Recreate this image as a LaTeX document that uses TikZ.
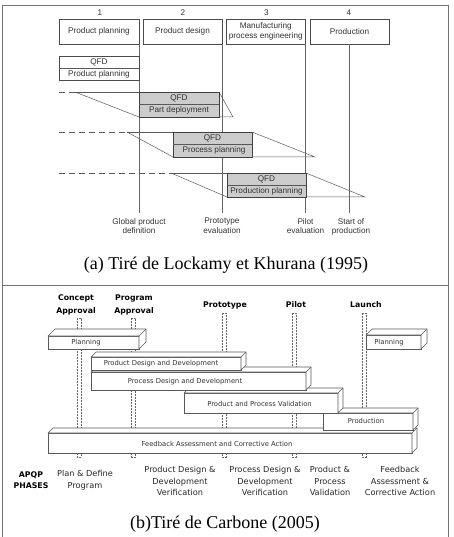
\documentclass[tikz,border=0pt]{standalone}
\usepackage{fontspec}
\setmainfont{Liberation Serif}
\newfontfamily\arialf{Liberation Sans}
\newfontfamily\verdf{DejaVu Sans}
\tikzset{
  frameline/.style={draw=black!55, line width=0.9pt},
  hbox/.style={draw=black!70, line width=0.6pt, fill=white, inner sep=0pt, outer sep=0pt, anchor=north west, font=\arialf\fontsize{8.2}{9.8}\selectfont, text=black!80, align=center},
  qbox/.style={draw=black!70, line width=0.6pt, fill=white, inner sep=0pt, outer sep=0pt, anchor=north west},
  gbox/.style={draw=black!75, line width=0.6pt, fill=black!20, inner sep=0pt, outer sep=0pt, anchor=north west},
  atext/.style={font=\arialf\fontsize{8.2}{9.4}\selectfont, text=black!80, inner sep=0pt, align=center},
  vline/.style={draw=black!60, line width=0.6pt},
  pline/.style={draw=black!65, line width=0.5pt},
  dline/.style={draw=black!65, line width=0.6pt, dash pattern=on 6pt off 4pt},
  caption/.style={font=\fontsize{18}{20}\selectfont, inner sep=0pt, anchor=base},
  barface/.style={draw=black!65, line width=0.6pt, fill=white, inner sep=0pt, outer sep=0pt, anchor=north west},
  barline/.style={draw=black!65, line width=0.6pt, fill=white, line join=round},
  bartext/.style={font=\verdf\fontsize{6.8}{8}\selectfont, text=black!80, inner sep=0pt},
  pillar/.style={draw=black!60, line width=0.45pt, dash pattern=on 2pt off 1pt},
  blab/.style={font=\verdf\bfseries\fontsize{7.8}{13}\selectfont, inner sep=0pt, align=center},
  plab/.style={font=\verdf\fontsize{8.2}{11.6}\selectfont, text=black!85, inner sep=0pt, align=center},
}
\newcommand\tdbar[6]{%
  \node[barface, minimum width={(#4-#2)*1pt}, minimum height={(#5-#3)*1pt}] (#1) at (#2,#3) {};
  \filldraw[barline] (#1.north west) -- ++(#6,-#6) -- ([shift={(#6,-#6)}]#1.north east)
     -- ([shift={(#6,-#6)}]#1.south east) -- (#1.south east) -- (#1.north east) -- cycle;
  \draw[barline] (#1.north east) -- ++(#6,-#6);
}
\begin{document}
\begin{tikzpicture}[x=1pt,y=-1pt]
\useasboundingbox (0,0) rectangle (453,537);
% frame
\coordinate (fbl) at (2.5,537);
\coordinate (ftl) at (2.5,5);
\coordinate (ftr) at (448,5);
\coordinate (fbr) at (448,537);
\coordinate (dl) at (2.5,285);
\coordinate (dr) at (448,285);
\draw[frameline] (fbl) -- (ftl) -- (ftr) -- (fbr);
\draw[frameline] (dl) -- (dr);

% ===== Part (a) =====
\node[atext] (n1) at (100,13) {1};
\node[atext] (n2) at (183,13) {2};
\node[atext] (n3) at (266.5,13) {3};
\node[atext] (n4) at (349,13) {4};
\node[hbox, minimum width=80pt, minimum height=25pt] (h1) at (59,19) {Product planning};
\node[hbox, minimum width=79pt, minimum height=25pt] (h2) at (143,19) {Product design};
\node[hbox, minimum width=79.5pt, minimum height=25pt] (h3) at (226,19) {Manufacturing\\process engineering};
\node[hbox, minimum width=79pt, minimum height=25pt] (h4) at (310,19) {Production};

\coordinate (b1) at (139,213);
\coordinate (b2) at (222,213);
\coordinate (b3) at (305.5,213);
\coordinate (b4) at (349.5,213);
\draw[vline] (h1.south east) -- (b1);
\draw[vline] (h2.south east) -- (b2);
\draw[vline] (h3.south east) -- (b3);
\draw[vline] (h4.south) -- (b4);

% QFD product planning
\node[qbox, minimum width=80pt, minimum height=24pt] (q0) at (59,56) {};
\draw[pline] (q0.west) -- (q0.east);
\node[atext] (q0a) at (99,62) {QFD};
\node[atext] (q0b) at (99,74) {Product planning};

% parallelogram 1
\coordinate (d1s) at (59,92);
\coordinate (d1a) at (75,92);
\coordinate (r1) at (233,117);
\node[gbox, minimum width=80pt, minimum height=25pt] (g1) at (139,92) {};
\draw[dline] (d1s) -- (d1a);
\draw[pline] (d1a) -- (g1.north west);
\draw[pline] (d1a) -- (g1.south west);
\draw[pline] (g1.north east) -- (r1) -- (g1.south east);
\draw[pline] (g1.west) -- (g1.east);
\node[atext] (g1a) at (179,98.5) {QFD};
\node[atext] (g1b) at (179,110.5) {Part deployment};

% parallelogram 2
\coordinate (d2s) at (59,132);
\coordinate (d2a) at (127,132);
\coordinate (r2) at (315,157);
\draw[dline] (d2s) -- (d2a);
\node[gbox, minimum width=79pt, minimum height=25pt] (g2) at (173,132) {};
\draw[pline] (d2a) -- (g2.north west);
\draw[pline] (d2a) -- (g2.south west);
\draw[pline] (g2.north east) -- (r2) -- (g2.south east);
\draw[pline] (g2.west) -- (g2.east);
\node[atext] (g2a) at (212.5,138.5) {QFD};
\node[atext] (g2b) at (214,150.5) {Process planning};

% parallelogram 3
\coordinate (d3s) at (59,173);
\coordinate (d3a) at (171,173);
\coordinate (r3) at (365,197);
\draw[dline] (d3s) -- (d3a);
\node[gbox, minimum width=79pt, minimum height=24pt] (g3) at (227,173) {};
\draw[pline] (d3a) -- (g3.north west);
\draw[pline] (d3a) -- (g3.south west);
\draw[pline] (g3.north east) -- (r3) -- (g3.south east);
\draw[pline] (g3.west) -- (g3.east);
\node[atext] (g3a) at (266.5,179) {QFD};
\node[atext] (g3b) at (266.5,191) {Production planning};

% milestone labels
\node[atext, anchor=north] (m1) at (139,218) {Global product\\definition};
\node[atext, anchor=north] (m2) at (222,218) {Prototype\\evaluation};
\node[atext, anchor=north] (m3) at (305.5,218) {Pilot\\evaluation};
\node[atext, anchor=north] (m4) at (351,218) {Start of\\production};

\node[caption] (capa) at (226,269.5) {(a) Tiré de Lockamy et Khurana (1995)};

% ===== Part (b) =====
\node[blab] (l1) at (76,305) {Concept\\Approval};
\node[blab] (l2) at (134,305) {Program\\Approval};
\node[blab] (l3) at (225,305) {Prototype};
\node[blab] (l4) at (296,305) {Pilot};
\node[blab] (l5) at (366,305) {Launch};

% pillars
\draw[pillar] (77,318) rectangle (81,457);
\draw[pillar] (131.5,318) rectangle (135.5,457);
\draw[pillar] (222,313) rectangle (226,457);
\draw[pillar] (292,313) rectangle (296,457);
\draw[pillar] (362,313) rectangle (366,457);

% bars (back to front)
\tdbar{fb}{48}{433}{412}{453}{5}
\node[bartext] (fbt) at (217,443.5) {Feedback Assessment and Corrective Action};
\tdbar{pr}{323}{413}{413}{430}{5}
\node[bartext] (prt) at (366,421) {Production};
\tdbar{ppv}{184}{393}{338}{413}{5}
\node[bartext] (ppvt) at (259.5,403.5) {Product and Process Validation};
\tdbar{pcd}{91}{372}{306}{390}{5}
\node[bartext] (pcdt) at (185,381.5) {Process Design and Development};
\tdbar{pdd}{91}{357}{241}{370}{5}
\node[bartext] (pddt) at (161,363.5) {Product Design and Development};
\tdbar{pl1}{48}{336}{139}{349}{7}
\node[bartext] (pl1t) at (86,343) {Planning};
\tdbar{pl2}{366}{335}{421}{349}{6}
\node[bartext] (pl2t) at (389,342.5) {Planning};

% phases
\node[blab, font=\verdf\bfseries\fontsize{7.8}{11.6}\selectfont] (ph0) at (31,480) {APQP\\PHASES};
\node[plab] (ph1) at (85,480) {Plan \& Define\\Program};
\node[plab] (ph2) at (180,481) {Product Design \&\\Development\\Verification};
\node[plab] (ph3) at (265,481) {Process Design \&\\Development\\Verification};
\node[plab] (ph4) at (330,481) {Product \&\\Process\\Validation};
\node[plab] (ph5) at (400,481) {Feedback\\Assessment \&\\Corrective Action};

\node[caption] (capb) at (225,528) {(b)Tiré de Carbone (2005)};
\end{tikzpicture}
\end{document}
